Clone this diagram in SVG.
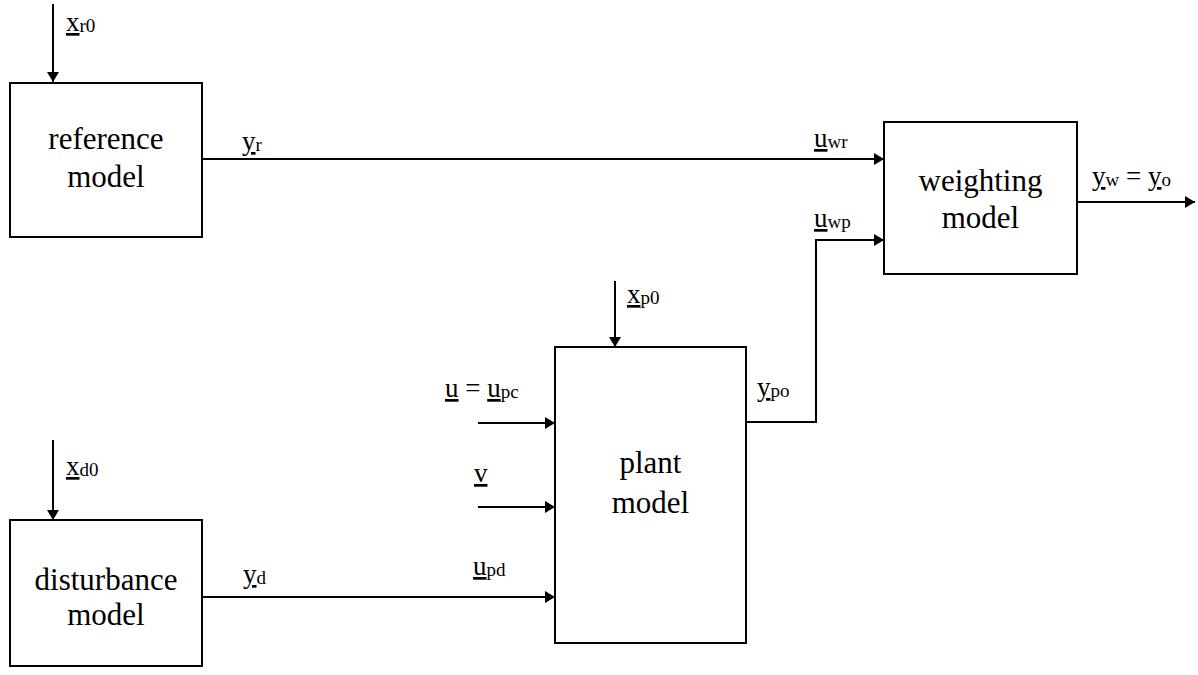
<svg xmlns="http://www.w3.org/2000/svg" width="1198" height="675" viewBox="0 0 1198 675">
<defs>
<style>
.box{fill:#fff;stroke:#000;stroke-width:2}
.ln{fill:none;stroke:#000;stroke-width:2}
.bt{font-family:"Liberation Serif","Times New Roman",serif;font-size:31px;fill:#000;text-anchor:middle}
.lb{font-family:"Liberation Serif","Times New Roman",serif;font-size:27px;fill:#000}
.sub{font-size:19px}
.ul{text-decoration:underline}
</style>
<marker id="ah" markerUnits="userSpaceOnUse" markerWidth="11" markerHeight="12" refX="10" refY="6" orient="auto">
<path d="M0,0 L10,6 L0,12 z" fill="#000"/>
</marker>
</defs>
<rect width="1198" height="675" fill="#fff"/>
<g id="connectors">
<line class="ln" x1="53" y1="4" x2="53" y2="82" marker-end="url(#ah)"/>
<line class="ln" x1="202" y1="159" x2="884" y2="159" marker-end="url(#ah)"/>
<line class="ln" x1="1077" y1="202" x2="1195" y2="202" marker-end="url(#ah)"/>
<polyline class="ln" points="746,422 816,422 816,240 884,240" marker-end="url(#ah)"/>
<line class="ln" x1="615" y1="281" x2="615" y2="347" marker-end="url(#ah)"/>
<line class="ln" x1="478" y1="423" x2="555" y2="423" marker-end="url(#ah)"/>
<line class="ln" x1="478" y1="507" x2="555" y2="507" marker-end="url(#ah)"/>
<line class="ln" x1="202" y1="597" x2="555" y2="597" marker-end="url(#ah)"/>
<line class="ln" x1="53" y1="440" x2="53" y2="520" marker-end="url(#ah)"/>
</g>
<g id="labels">
<text class="lb" x="66" y="31"><tspan class="ul">x</tspan><tspan class="sub" dy="1">r0</tspan></text>
<text class="lb" x="242" y="150"><tspan class="ul">y</tspan><tspan class="sub" dy="1">r</tspan></text>
<text class="lb" x="814" y="147"><tspan class="ul">u</tspan><tspan class="sub" dy="1">wr</tspan></text>
<text class="lb" x="814" y="227"><tspan class="ul">u</tspan><tspan class="sub" dy="1">wp</tspan></text>
<text class="lb" x="1092" y="185"><tspan class="ul">y</tspan><tspan class="sub" dy="1">w</tspan><tspan dy="-1"> = </tspan><tspan class="ul">y</tspan><tspan class="sub" dy="1">o</tspan></text>
<text class="lb" x="627" y="303"><tspan class="ul">x</tspan><tspan class="sub" dy="1">p0</tspan></text>
<text class="lb" x="445" y="397"><tspan class="ul">u</tspan><tspan> = </tspan><tspan class="ul">u</tspan><tspan class="sub" dy="1">pc</tspan></text>
<text class="lb" x="474" y="482"><tspan class="ul">v</tspan></text>
<text class="lb" x="473" y="575"><tspan class="ul">u</tspan><tspan class="sub" dy="1">pd</tspan></text>
<text class="lb" x="757" y="396"><tspan class="ul">y</tspan><tspan class="sub" dy="1">po</tspan></text>
<text class="lb" x="66" y="475"><tspan class="ul">x</tspan><tspan class="sub" dy="1">d0</tspan></text>
<text class="lb" x="243" y="583"><tspan class="ul">y</tspan><tspan class="sub" dy="1">d</tspan></text>
</g>
<g id="reference-model">
<rect class="box" x="10" y="83" width="192" height="154"/>
<text class="bt" x="106" y="149">reference</text>
<text class="bt" x="106" y="187">model</text>
</g>
<g id="weighting-model">
<rect class="box" x="884" y="122" width="193" height="152"/>
<text class="bt" x="980.5" y="191">weighting</text>
<text class="bt" x="980.5" y="228">model</text>
</g>
<g id="plant-model">
<rect class="box" x="555" y="347" width="191" height="296"/>
<text class="bt" x="650.5" y="473">plant</text>
<text class="bt" x="650.5" y="513">model</text>
</g>
<g id="disturbance-model">
<rect class="box" x="10" y="520" width="192" height="146"/>
<text class="bt" x="106" y="590">disturbance</text>
<text class="bt" x="106" y="625">model</text>
</g>
</svg>
